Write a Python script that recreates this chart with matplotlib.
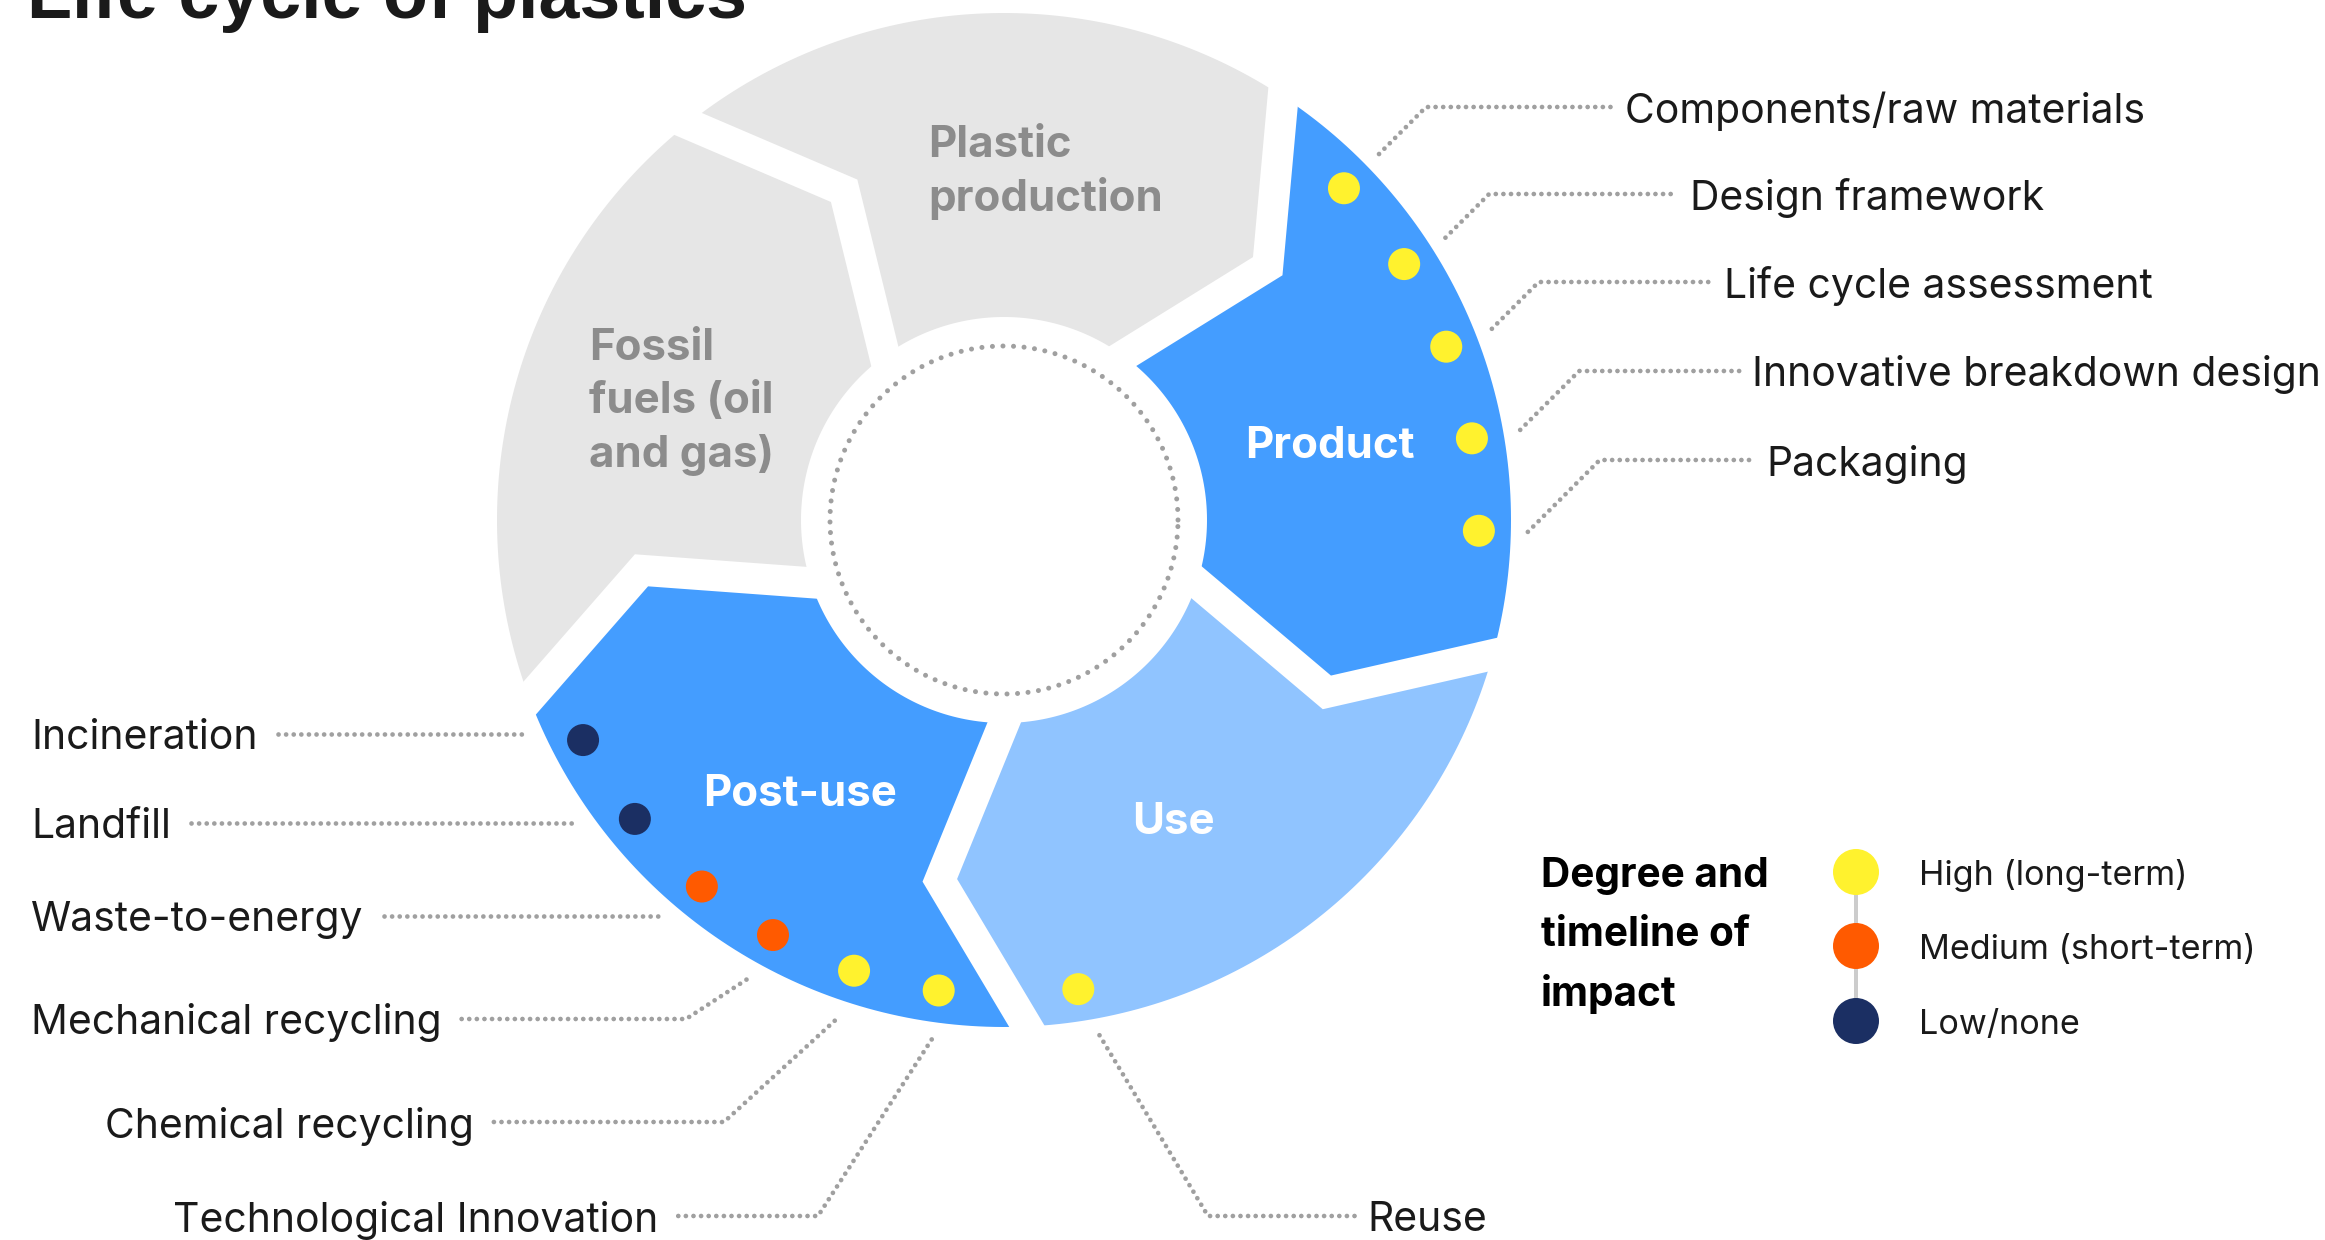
import numpy as np
import matplotlib

matplotlib.use("Agg")
import matplotlib.pyplot as plt
from matplotlib.patches import Circle, Polygon

plt.rcParams["font.family"] = ["Inter", "DejaVu Sans"]

# --- data -----------------------------------------------------------------
stage_names = ["Fossil\nfuels (oil\nand gas)", "Plastic\nproduction", "Product", "Use", "Post-use"]
stage_colors = ["#e6e6e6", "#e6e6e6", "#449dff", "#90c4ff", "#449dff"]
# angle (deg) of the counter-clockwise edge of every stage, flow runs clockwise
stage_edges = [198, 126, 54, -18, -90]

impact_levels = ["High (long-term)", "Medium (short-term)", "Low/none"]
impact_colors = ["#fff22e", "#ff5a00", "#1b2f63"]

product_items = ["Components/raw materials", "Design framework", "Life cycle assessment",
                 "Innovative breakdown design", "Packaging"]
product_angles = [44.3, 32.6, 21.4, 9.9, -1.3]
product_impact = [0, 0, 0, 0, 0]

postuse_items = ["Incineration", "Landfill", "Waste-to-energy", "Mechanical recycling",
                 "Chemical recycling", "Technological Innovation"]
postuse_angles = [207.6, 219.0, 230.5, 240.9, 251.6, 262.1]
postuse_impact = [2, 2, 1, 1, 0, 0]

use_items = ["Reuse"]
use_angles = [-81.0]
use_impact = [0]

# --- layout (pixels of the 2325x1240 canvas) -------------------------------
W, H, DPI = 2325, 1240, 100
CX, CY = 1004, 520
R_OUT, R_IN, R_TIP = 507, 203, 366
R_DOT, R_LEAD, R_RING = 475, 524, 174
OUTER_SHIFT, TIP_SHIFT = 2.6, -10.1
GAP_PX = 31
LEADER = dict(color="#a0a0a0", lw=3.4, linestyle=(0, (0.01, 1.6)),
              dash_capstyle="round", solid_capstyle="round", zorder=2)

right_label_x = [1625, 1690, 1724, 1752, 1766]
right_label_y = [107, 194, 282, 371, 460]
left_label_x = [31, 31, 31, 31, 105, 173]
left_label_y = [734, 823, 916, 1019, 1122, 1216]
left_elbow_x = [None, None, None, 686, 724, 818]
reuse_label = (1367, 1216, 1208)


def px(v):
    return v * 72.0 / DPI


def polar(angle, r):
    a = np.radians(angle)
    return np.array([CX + r * np.cos(a), CY - r * np.sin(a)])


def stage_polygon(edge):
    start, end = edge, edge - 72
    outer = np.linspace(start + OUTER_SHIFT, end + OUTER_SHIFT, 80)
    inner = np.linspace(end, start, 60)
    pts = [polar(a, R_OUT) for a in outer]
    pts.append(polar(end + TIP_SHIFT, R_TIP))
    pts += [polar(a, R_IN) for a in inner]
    pts.append(polar(start + TIP_SHIFT, R_TIP))
    return np.array(pts)


def gap_line(edge):
    p_out = polar(edge + OUTER_SHIFT, R_OUT)
    tip = polar(edge + TIP_SHIFT, R_TIP)
    p_in = polar(edge, R_IN)
    d_out = (p_out - tip) / np.linalg.norm(p_out - tip)
    d_in = (p_in - tip) / np.linalg.norm(p_in - tip)
    return np.array([p_out + d_out * 40, tip, p_in + d_in * 40])


fig = plt.figure(figsize=(W / DPI, H / DPI), dpi=DPI)
ax = fig.add_axes([0, 0, 1, 1])
ax.set_xlim(0, W)
ax.set_ylim(H, 0)
ax.axis("off")
renderer = fig.canvas.get_renderer()
inv = ax.transData.inverted()

for edge, color in zip(stage_edges, stage_colors):
    ax.add_patch(Polygon(stage_polygon(edge), closed=True, facecolor=color,
                         edgecolor="none", zorder=1))
for edge in stage_edges:
    line = gap_line(edge)
    ax.plot(line[:, 0], line[:, 1], color="white", lw=px(GAP_PX),
            solid_joinstyle="miter", solid_capstyle="butt", zorder=1.5)

ring = np.linspace(0, 360, 400)
ring_pts = np.array([polar(a, R_RING) for a in ring])
ax.plot(ring_pts[:, 0], ring_pts[:, 1], color="#a0a0a0", lw=3.6,
        linestyle=(0, (0.01, 2.1)), dash_capstyle="round", zorder=2)

# stage titles
gray_text = dict(color="#8c8c8c", fontsize=31.5, fontweight="bold",
                 ha="left", va="center_baseline", zorder=4)
for i, line in enumerate(stage_names[0].split("\n")):
    ax.text(589, 344 + i * 53, line, **gray_text)
for i, line in enumerate(stage_names[1].split("\n")):
    ax.text(928, 141 + i * 53, line, **gray_text)
white_text = dict(color="white", fontsize=31.5, fontweight="bold",
                  ha="center", va="center_baseline", zorder=4)
ax.text(1330, 442, stage_names[2], **white_text)
ax.text(1173, 818, stage_names[3], **white_text)
ax.text(800, 790, stage_names[4], **white_text)

# impact dots
for angles, impact in [(product_angles, product_impact),
                       (postuse_angles, postuse_impact),
                       (use_angles, use_impact)]:
    for a, k in zip(angles, impact):
        x, y = polar(a, R_DOT)
        ax.add_patch(Circle((x, y), 16, facecolor=impact_colors[k],
                            edgecolor="none", zorder=3))

label_style = dict(color="#1a1a1a", fontsize=29.4, va="center_baseline", zorder=4)

# product labels on the right
for name, a, lx, ly in zip(product_items, product_angles, right_label_x, right_label_y):
    sx, sy = polar(a, R_LEAD)
    ex = sx + (sy - ly)
    ax.plot([sx, ex, lx - 12], [sy, ly, ly], **LEADER)
    ax.text(lx, ly, name, ha="left", **label_style)

# post-use labels on the left
for name, a, lx, ly, elx in zip(postuse_items, postuse_angles, left_label_x,
                                left_label_y, left_elbow_x):
    t = ax.text(lx, ly, name, ha="left", **label_style)
    bb = t.get_window_extent(renderer=renderer)
    tx_end = inv.transform((bb.x1, bb.y0))[0] + 20
    if elx is None:
        sx = CX - np.sqrt(R_LEAD ** 2 - (ly - CY) ** 2)
        ax.plot([tx_end, sx], [ly, ly], **LEADER)
    else:
        sx, sy = polar(a, R_LEAD)
        ax.plot([tx_end, elx, sx], [ly, ly, sy], **LEADER)

# use label
lx, ly, elx = reuse_label
sx, sy = polar(use_angles[0] + 1.5, R_LEAD)
ax.plot([sx, elx, lx - 12], [sy, ly, ly], **LEADER)
ax.text(lx, ly, use_items[0], ha="left", **label_style)

# legend
for i, line in enumerate(["Degree and", "timeline of", "impact"]):
    ax.text(1541, 872 + i * 59, line, color="black", fontsize=29.2, fontweight="bold",
            ha="left", va="center_baseline")
leg_y = [872, 946, 1021]
ax.plot([1856, 1856], [leg_y[0], leg_y[-1]], color="#cccccc", lw=px(4), zorder=2)
for name, color, y in zip(impact_levels, impact_colors, leg_y):
    ax.add_patch(Circle((1856, y), 23, facecolor=color, edgecolor="none", zorder=3))
    ax.text(1919, y, name, color="#1a1a1a", fontsize=24.6, ha="left", va="center_baseline")

# title, partly cut off at the top as in the source
ax.text(27, 18, "Life cycle of plastics", fontsize=53, fontweight="bold",
        family=["Liberation Sans", "DejaVu Sans"], color="#1a1a1a",
        ha="left", va="baseline")

fig.savefig("out.png", dpi=DPI, facecolor="white")
